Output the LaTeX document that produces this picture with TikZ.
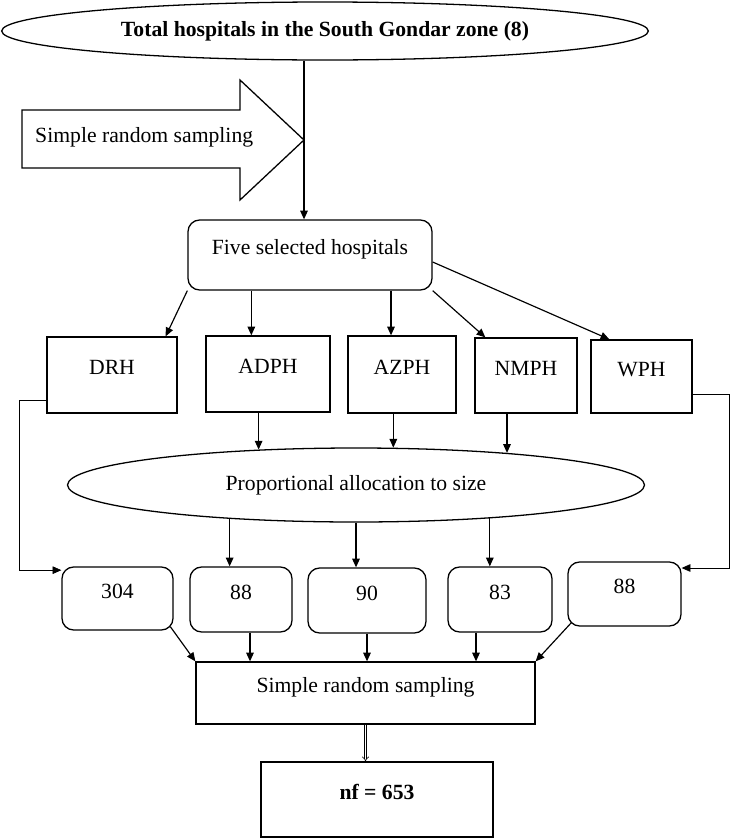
\documentclass[tikz,border=0pt]{standalone}
\usepackage{fontspec}
\setmainfont{Liberation Serif}
\usetikzlibrary{arrows.meta,shapes.geometric}

\tikzset{
  box/.style={draw, line width=1.1pt, inner sep=0pt, text height=0.38cm, text depth=0.4cm},
  rbox/.style={box, rounded corners=0.35cm},
  oval/.style={draw, ellipse, line width=1.1pt, inner sep=0pt},
  conn/.style={-{Triangle[length=7.5pt,width=6.5pt]}, line width=1pt},
  wire/.style={-{Triangle[length=7.5pt,width=6.5pt]}, line width=0.6pt},
  sz/.style 2 args={minimum width=#1cm, minimum height=#2cm},
}

\begin{document}
\begin{tikzpicture}[x=0.03cm, y=-0.03cm, font=\fontsize{18.5}{22}\selectfont]
\useasboundingbox (0,0) rectangle (731,838);

\node[oval, sz={19.4}{1.74}, font=\fontsize{18.5}{22}\selectfont\bfseries] (top) at (325,31) {Total hospitals in the South Gondar zone (8)};

% sampling arrow
\coordinate (tip) at (304,140);
\draw[line width=1.1pt] (22,110) -- (240,110) -- (240,80) -- (tip) -- (240,200) -- (240,168) -- (22,168) -- cycle;
\node[anchor=base west, inner sep=0pt] (srsarrow) at (35,142) {Simple random sampling};

\node[rbox, sz={7.32}{2.1}] (five) at (310,255) {Five selected hospitals};

\node[box, sz={3.9}{2.28}] (drh) at (112,375) {DRH};
\node[box, sz={3.72}{2.28}] (adph) at (268,374) {ADPH};
\node[box, sz={3.24}{2.31}] (azph) at (402,374.5) {AZPH};
\node[box, sz={3.06}{2.25}] (nmph) at (526,375.5) {NMPH};
\node[box, sz={3.03}{2.19}] (wph) at (641.5,376.5) {WPH};

\node[oval, sz={17.31}{2.22}] (prop) at (356,485) {Proportional allocation to size};

\node[rbox, sz={3.33}{1.89}] (n304) at (117.5,598.5) {304};
\node[rbox, sz={3.06}{1.95}] (n88a) at (241,599.5) {88};
\node[rbox, sz={3.54}{1.95}] (n90) at (367,600.5) {90};
\node[rbox, sz={3.12}{1.95}] (n83) at (500,599.5) {83};
\node[rbox, sz={3.39}{1.92}] (n88b) at (624.5,594) {88};

\node[box, sz={10.17}{1.86}] (srs) at (365.5,693) {Simple random sampling};
\node[box, sz={6.96}{2.25}, font=\fontsize{18.5}{22}\selectfont\bfseries] (nf) at (377,799.5) {nf = 653};

\draw[conn] (top.south -| tip) -- (five.north -| tip);

\draw[conn] (five.south west) -- ([xshift=-0.36cm]drh.north east);
\draw[conn] ([xshift=-0.5cm]adph.north |- five.south) -- ([xshift=-0.5cm]adph.north);
\draw[conn] ([xshift=-0.33cm]azph.north |- five.south) -- ([xshift=-0.33cm]azph.north);
\draw[conn] (five.south east) -- ([xshift=0.33cm]nmph.north west);
\draw[conn] ([yshift=-0.21cm]five.east) -- ([xshift=0.57cm]wph.north west);

\draw[conn] (adph.south -| prop.160) -- (prop.160);
\draw[conn] (azph.south -| prop.45) -- (prop.45);
\draw[conn] (nmph.south -| prop.12.5) -- (prop.12.5);

\draw[conn] (prop.195) -- (prop.195 |- n88a.north);
\draw[conn] (prop.south) -- (prop.south |- n90.north);
\draw[conn] (prop.346) -- (prop.346 |- n83.north);

\draw[wire] ([yshift=-0.75cm]drh.west) -- ++(-27,0) |- ([yshift=0.85cm]n304.west);
\draw[wire] ([yshift=-0.55cm]wph.east) -- ++(37,0) |- ([yshift=0.78cm]n88b.east);

\draw[conn] ([xshift=-0.1cm,yshift=0.12cm]n304.south east) -- (srs.north west);
\draw[conn] ([xshift=0.27cm]n88a.south) -- ([xshift=0.27cm]n88a.south |- srs.north);
\draw[conn] (n90.south) -- (n90.south |- srs.north);
\draw[conn] ([xshift=-0.72cm]n83.south) -- ([xshift=-0.72cm]n83.south |- srs.north);
\draw[conn] ([xshift=0.12cm,yshift=0.12cm]n88b.south west) -- (srs.north east);

\draw[double, double distance=1.6pt, line width=0.5pt, -{Implies}] (srs.south) -- (srs.south |- nf.north);
\end{tikzpicture}
\end{document}
